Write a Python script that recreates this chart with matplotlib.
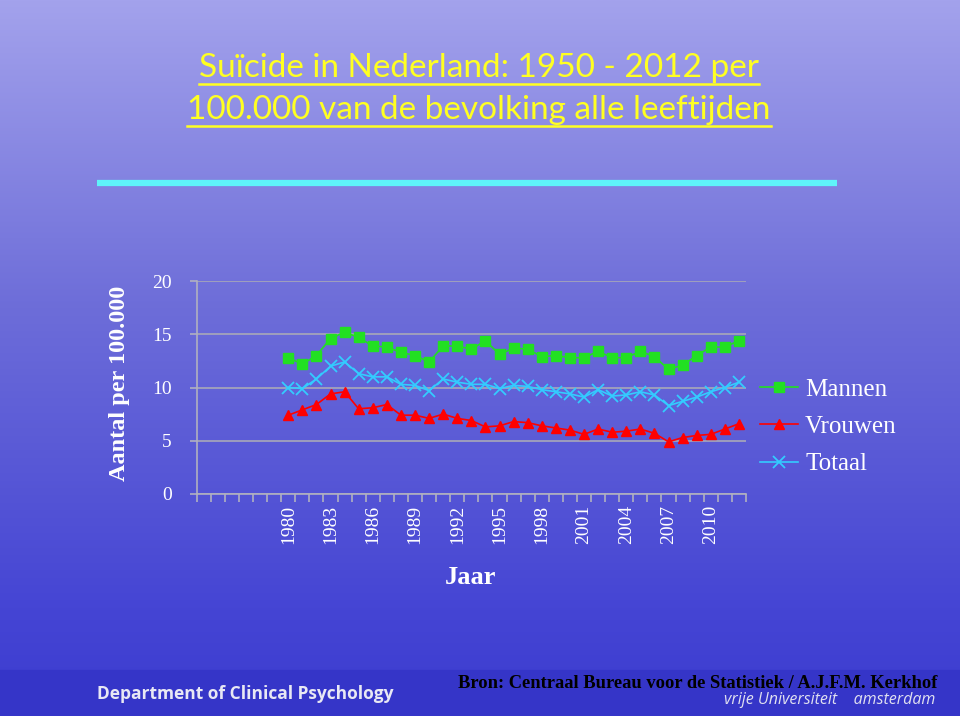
import numpy as np
import matplotlib
matplotlib.use("Agg")
import matplotlib.pyplot as plt
from matplotlib.colors import LinearSegmentedColormap

years = list(range(1980, 2013))
mannen = [12.8, 12.2, 13.0, 14.6, 15.2, 14.7, 13.9, 13.8, 13.3, 13.0, 12.4,
          13.9, 13.9, 13.6, 14.4, 13.1, 13.7, 13.6, 12.9, 13.0, 12.8, 12.8,
          13.4, 12.8, 12.8, 13.4, 12.9, 11.7, 12.1, 13.0, 13.8, 13.8, 14.4]
vrouwen = [7.4, 7.9, 8.4, 9.4, 9.6, 8.0, 8.1, 8.4, 7.4, 7.4, 7.1,
           7.5, 7.1, 6.9, 6.3, 6.4, 6.8, 6.7, 6.4, 6.2, 6.0, 5.6,
           6.1, 5.8, 5.9, 6.1, 5.7, 4.9, 5.3, 5.5, 5.6, 6.1, 6.6]
totaal = [10.0, 9.9, 10.8, 12.0, 12.4, 11.3, 11.0, 11.0, 10.3, 10.2, 9.7,
          10.8, 10.5, 10.3, 10.3, 9.9, 10.2, 10.1, 9.8, 9.6, 9.4, 9.1,
          9.8, 9.2, 9.3, 9.6, 9.3, 8.3, 8.7, 9.1, 9.6, 10.0, 10.5]
tick_years = list(range(1980, 2011, 3))

fig = plt.figure(figsize=(9.6, 7.16), dpi=100)

# background gradient
bg = fig.add_axes([0, 0, 1, 1], zorder=-10)
cmap = LinearSegmentedColormap.from_list(
    "bg", [(0.0, "#a3a2ec"), (0.42, "#6e6ed9"), (0.85, "#4545d4"), (1.0, "#3c3cd0")])
grad = np.linspace(0, 1, 256).reshape(-1, 1)
bg.imshow(grad, aspect="auto", cmap=cmap, extent=[0, 1, 0, 1], origin="upper")
bg.add_patch(plt.Rectangle((0, 0), 1, 46 / 716, color="#3535c8", zorder=2))
bg.set_xlim(0, 1)
bg.set_ylim(0, 1)
bg.axis("off")

# cyan bar below title
bg.plot([97 / 960, 837 / 960], [1 - 183 / 716] * 2, color="#5ff3fa", lw=4.5,
        solid_capstyle="butt", zorder=3)

# title, underlined
renderer = fig.canvas.get_renderer()
for txt, ypix in [("Suïcide in Nederland: 1950 - 2012 per", 68),
                  ("100.000 van de bevolking alle leeftijden", 110)]:
    t = fig.text(479 / 960, 1 - ypix / 716, txt, color="#ffff22", fontsize=24,
                 family="Lato", ha="center", va="center")
    bb = t.get_window_extent(renderer=renderer)
    x0, x1 = bb.x0 / 960, bb.x1 / 960
    yl = (bb.y0 - 1) / 716
    fig.add_artist(plt.Line2D([x0, x1], [yl, yl], color="#ffff22", lw=1.8,
                              transform=fig.transFigure))

serif = "Liberation Serif"
ax = fig.add_axes([196.7 / 960, 1 - 494 / 716, (746 - 196.7) / 960, (494 - 281) / 716])
ax.patch.set_alpha(0)
ax.plot(years, mannen, color="#22e022", marker="s", ms=6.5, lw=1.2, label="Mannen")
ax.plot(years, vrouwen, color="#ff0000", marker="^", ms=7, lw=1.2, label="Vrouwen")
ax.plot(years, totaal, color="#33ccff", marker="x", ms=8, mew=1.3, lw=1.2, label="Totaal")

ax.set_xlim(1973.5, 2012.5)
ax.set_ylim(0, 20)
ax.set_yticks([0, 5, 10, 15, 20])
ax.yaxis.grid(True, color="#a8a8b8", lw=1.2)
ax.set_axisbelow(True)
ax.set_xticks(tick_years)
ax.set_xticklabels([str(y) for y in tick_years], rotation=90)
ax.set_xticks(np.arange(1973.5, 2013, 1), minor=True)
ax.tick_params(axis="x", which="major", length=0, pad=8, labelsize=14,
               labelcolor="white")
ax.tick_params(axis="x", which="minor", length=6, color="#b0b0c0", width=1.2)
ax.tick_params(axis="y", length=5, color="#b0b0c0", width=1.2, pad=13,
               labelsize=14, labelcolor="white")
for lab in ax.get_xticklabels() + ax.get_yticklabels():
    lab.set_family(serif)
for s in ["top", "right"]:
    ax.spines[s].set_visible(False)
for s in ["left", "bottom"]:
    ax.spines[s].set_color("#b0b0c0")
    ax.spines[s].set_linewidth(1.2)

fig.text(120 / 960, 1 - 383 / 716, "Aantal per 100.000", rotation=90, color="white",
         fontsize=17.5, fontweight="bold", family=serif, ha="center", va="center")
fig.text(471 / 960, 1 - 578 / 716, "Jaar", color="white", fontsize=19,
         fontweight="bold", family=serif, ha="center", va="center")

leg = fig.legend(loc="upper left", bbox_to_anchor=(760 / 960, 1 - 378 / 716),
                 frameon=False, prop={"family": serif, "size": 18}, labelcolor="white",
                 handlelength=1.5, labelspacing=0.6, handletextpad=0.3,
                 borderpad=0, borderaxespad=0)

fig.text(458 / 960, 1 - 683 / 716,
         "Bron: Centraal Bureau voor de Statistiek / A.J.F.M. Kerkhof",
         color="black", fontsize=13.3, fontweight="bold", family=serif,
         ha="left", va="center")
fig.text(97 / 960, 1 - 694 / 716, "Department of Clinical Psychology", color="#e8e8f4",
         fontsize=12.5, fontweight="bold", family="Open Sans", ha="left", va="center")
fig.text(935 / 960, 1 - 700 / 716, "vrije Universiteit    amsterdam", color="#e0e0f0",
         fontsize=11.5, style="italic", family="Open Sans", ha="right", va="center")

fig.savefig("out.png", dpi=100)
